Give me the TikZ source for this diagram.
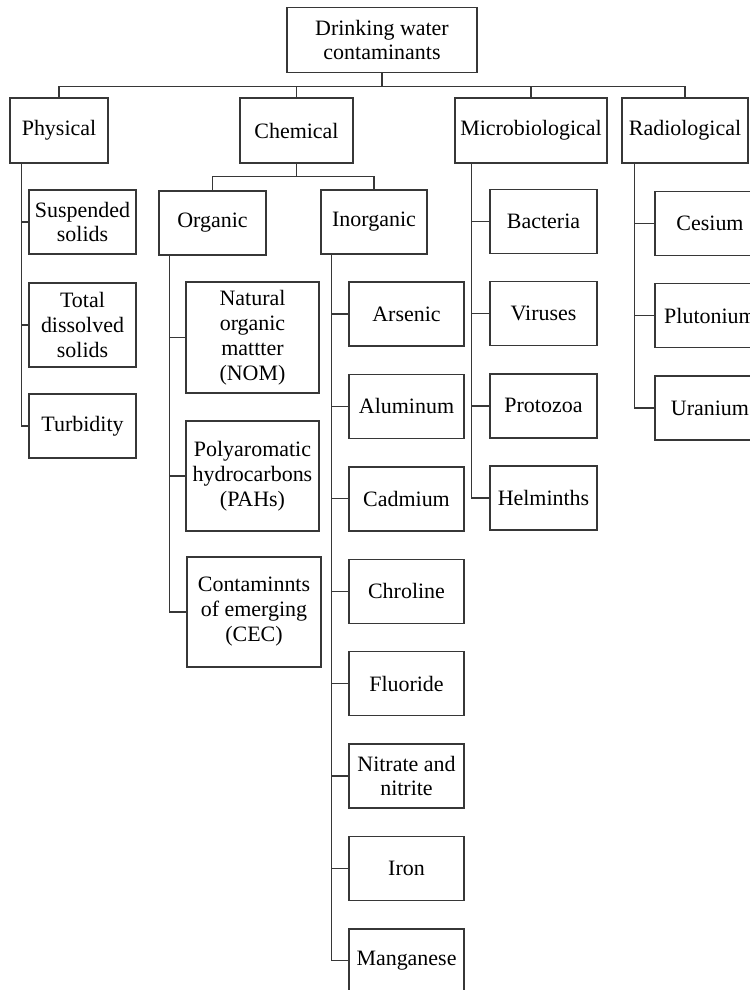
\documentclass[tikz,border=0pt]{standalone}
\usepackage{fontspec}
\setmainfont{Liberation Serif}
\usepackage{tikz}
\definecolor{lineg}{RGB}{55,55,55}
\newcommand{\pxl}{0.02cm}
\tikzset{
  box/.style={draw=lineg, line width=0.8pt, align=center, inner sep=1pt},
  wh/.style 2 args={minimum width=#1*\pxl, minimum height=#2*\pxl},
  link/.style={draw=lineg, line width=0.7pt},
}

\begin{document}
\begin{tikzpicture}[x=0.02cm, y=-0.02cm, font=\fontsize{12.5}{14.2}\selectfont]
        \useasboundingbox (0,0) rectangle (750,990);
        \clip (0,0) rectangle (750,990);

        % Root and first level
        \node[box, wh={190}{65}] (root) at (382,40) {Drinking water\\contaminants};
        \node[box, wh={98}{65}] (phys) at (59,130.5) {Physical};
        \node[box, wh={113}{65}] (chem) at (296.5,130.5) {Chemical};
        \node[box, wh={152}{65}] (micro) at (531,130.5) {Microbiological};
        \node[box, wh={126}{65}] (radio) at (685,130.5) {Radiological};
        \foreach \n in {phys,chem,micro,radio}
          \draw[link] (root.south) -- ++(0,13) -| (\n.north);

        % Physical
        \node[box, wh={107}{64}] (susp) at (82.5,222) {Suspended\\solids};
        \node[box, wh={107}{84}] (tds) at (82.5,325) {Total\\dissolved\\solids};
        \node[box, wh={107}{64}] (turb) at (82.5,426) {Turbidity};
        \coordinate (physstem) at ([xshift=12*\pxl]phys.south west);
        \draw[link] (physstem) |- (turb.west);
        \foreach \n in {susp,tds}
          \draw[link] (physstem |- \n.west) -- (\n.west);

        % Chemical
        \node[box, wh={107}{64}] (org) at (212.5,223) {Organic};
        \node[box, wh={106}{64}] (inorg) at (374,222) {Inorganic};
        \foreach \n in {org,inorg}
          \draw[link] (chem.south) -- ++(0,13) -| (\n.north);

        % Organic
        \node[box, wh={133}{111}] (nom) at (252.5,337.5) {Natural\\organic\\mattter\\(NOM)};
        \node[box, wh={133}{110}] (pah) at (252.5,476) {Polyaromatic\\hydrocarbons\\(PAHs)};
        \node[box, wh={134}{110}] (cec) at (254,612) {Contaminnts\\of emerging\\(CEC)};
        \coordinate (orgstem) at ([xshift=11*\pxl]org.south west);
        \draw[link] (orgstem) |- (cec.west);
        \foreach \n in {nom,pah}
          \draw[link] (orgstem |- \n.west) -- (\n.west);

        % Inorganic
        \foreach \n/\lbl [count=\i from 0] in {ars/Arsenic, alu/Aluminum, cad/Cadmium,
            chl/Chroline, flu/Fluoride, nit/{Nitrate and\\nitrite}, iron/Iron, mang/Manganese}
          \node[box, wh={115}{64}] (\n) at (406.5,314+92.4*\i) {\lbl};
        \coordinate (inorgstem) at ([xshift=11*\pxl]inorg.south west);
        \draw[link] (inorgstem) |- (mang.west);
        \foreach \n in {ars,alu,cad,chl,flu,nit,iron}
          \draw[link] (inorgstem |- \n.west) -- (\n.west);

        % Microbiological
        \foreach \n/\lbl [count=\i from 0] in {bact/Bacteria, vir/Viruses, prot/Protozoa, helm/Helminths}
          \node[box, wh={107}{64}] (\n) at (543.5,221.5+92.2*\i) {\lbl};
        \coordinate (microstem) at ([xshift=17*\pxl]micro.south west);
        \draw[link] (microstem) |- (helm.west);
        \foreach \n in {bact,vir,prot}
          \draw[link] (microstem |- \n.west) -- (\n.west);

        % Radiological
        \foreach \n/\lbl [count=\i from 0] in {ces/Cesium, plu/Plutonium, ura/Uranium}
          \node[box, wh={110}{64}] (\n) at (710,223.5+92.2*\i) {\lbl};
        \coordinate (radiostem) at ([xshift=13*\pxl]radio.south west);
        \draw[link] (radiostem) |- (ura.west);
        \foreach \n in {ces,plu}
          \draw[link] (radiostem |- \n.west) -- (\n.west);
      \end{tikzpicture}
\end{document}
